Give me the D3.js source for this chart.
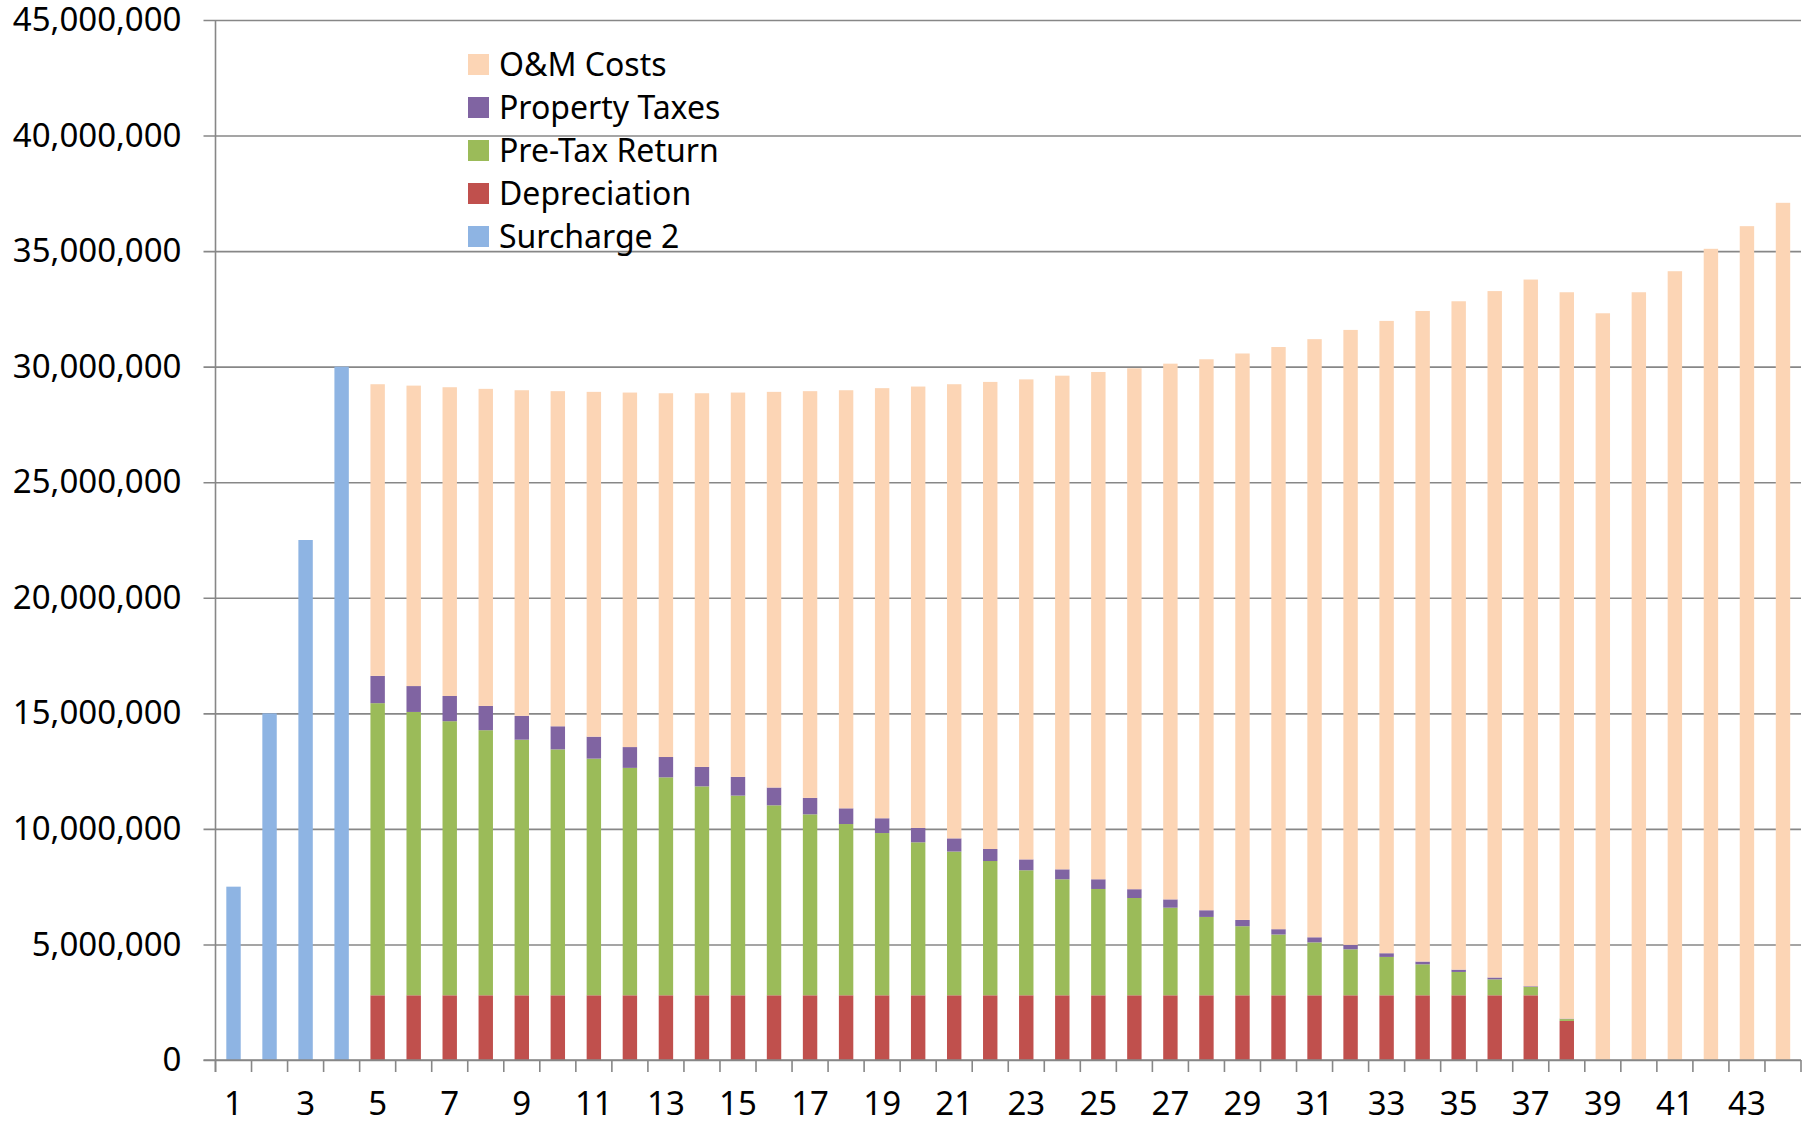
<!DOCTYPE html>
<html>
<head>
<meta charset="utf-8">
<script src="https://d3js.org/d3.v7.min.js"></script>
<style>
  body { margin: 0; background: #fff; }
  svg { display: block; font-family: "Noto Sans", sans-serif; }
</style>
</head>
<body>
<svg width="1816" height="1122"></svg>
<script>
// values in millions, one entry per year 1..44
var years = d3.range(1, 45);

var surcharge2 = [7.5, 15, 22.5, 30, 0, 0, 0, 0, 0, 0, 0, 0, 0, 0, 0, 0, 0, 0, 0, 0, 0, 0,
  0, 0, 0, 0, 0, 0, 0, 0, 0, 0, 0, 0, 0, 0, 0, 0, 0, 0, 0, 0, 0, 0];

var depreciation = [0, 0, 0, 0, 2.8, 2.8, 2.8, 2.8, 2.8, 2.8, 2.8, 2.8, 2.8, 2.8, 2.8, 2.8, 2.8,
  2.8, 2.8, 2.8, 2.8, 2.8, 2.8, 2.8, 2.8, 2.8, 2.8, 2.8, 2.8, 2.8, 2.8, 2.8, 2.8, 2.8, 2.8, 2.8,
  2.8, 1.69, 0, 0, 0, 0, 0, 0];

var preTaxReturn = [0, 0, 0, 0, 12.64, 12.26, 11.86, 11.47, 11.06, 10.64, 10.24, 9.84, 9.43, 9.04,
  8.64, 8.22, 7.83, 7.41, 7.02, 6.62, 6.22, 5.81, 5.41, 5.02, 4.60, 4.21, 3.79, 3.39, 2.99, 2.63,
  2.29, 1.99, 1.66, 1.34, 1.01, 0.69, 0.36, 0.08, 0, 0, 0, 0, 0, 0];

var propertyTaxes = [0, 0, 0, 0, 1.18, 1.12, 1.09, 1.05, 1.03, 1.00, 0.95, 0.90, 0.88, 0.84, 0.81,
  0.77, 0.71, 0.68, 0.64, 0.62, 0.57, 0.52, 0.47, 0.43, 0.42, 0.38, 0.36, 0.29, 0.27, 0.23, 0.22,
  0.19, 0.16, 0.12, 0.10, 0.08, 0.03, 0.02, 0, 0, 0, 0, 0, 0];

var omCosts = [0, 0, 0, 0, 12.62, 13.00, 13.36, 13.72, 14.09, 14.50, 14.92, 15.34, 15.74, 16.17,
  16.63, 17.12, 17.60, 18.09, 18.61, 19.10, 19.65, 20.21, 20.77, 21.36, 21.95, 22.54, 23.18, 23.84,
  24.51, 25.19, 25.88, 26.61, 27.36, 28.15, 28.92, 29.70, 30.58, 31.43, 32.31, 33.22, 34.13, 35.10,
  36.08, 37.09];

var yTicks = [0, 5, 10, 15, 20, 25, 30, 35, 40, 45];

// stacking order, bottom first
var keys = ["Surcharge 2", "Depreciation", "Pre-Tax Return", "Property Taxes", "O&M Costs"];
var colors = {
  "Surcharge 2": "#8eb4e3",
  "Depreciation": "#c0504d",
  "Pre-Tax Return": "#9bbb59",
  "Property Taxes": "#8064a2",
  "O&M Costs": "#fcd5b5"
};
var seriesData = {
  "Surcharge 2": surcharge2,
  "Depreciation": depreciation,
  "Pre-Tax Return": preTaxReturn,
  "Property Taxes": propertyTaxes,
  "O&M Costs": omCosts
};

var rows = years.map(function(yr, i) {
  var r = { year: yr };
  keys.forEach(function(k) { r[k] = seriesData[k][i]; });
  return r;
});

var svg = d3.select("svg");
var plotLeft = 215.5, plotRight = 1801, plotTop = 20, plotBottom = 1060;
var gridColor = "#878787";

var x = d3.scaleBand()
  .domain(years)
  .range([plotLeft, plotRight])
  .paddingInner(0.6)
  .paddingOuter(0.3);

var y = d3.scaleLinear()
  .domain([0, 45])
  .range([plotBottom, plotTop]);

// gridlines + y labels
var yAxis = svg.append("g")
  .attr("transform", "translate(" + plotLeft + ",0)")
  .call(d3.axisLeft(y)
    .tickValues(yTicks)
    .tickSize(12)
    .tickPadding(22)
    .tickFormat(function(d) { return d3.format(",")(d * 1e6); }));

yAxis.select(".domain").remove();
yAxis.selectAll(".tick line")
  .attr("x1", plotRight - plotLeft)
  .attr("stroke", gridColor)
  .attr("stroke-width", 1.6);
yAxis.selectAll(".tick text")
  .attr("fill", "#000")
  .attr("font-size", 33)
  .attr("font-family", "Noto Sans");

// bars
var stacked = d3.stack().keys(keys)(rows);

svg.append("g")
  .selectAll("g")
  .data(stacked)
  .join("g")
  .attr("fill", function(d) { return colors[d.key]; })
  .selectAll("rect")
  .data(function(d) { return d.filter(function(p) { return p[1] - p[0] > 0; }); })
  .join("rect")
  .attr("x", function(d) { return x(d.data.year); })
  .attr("width", x.bandwidth())
  .attr("y", function(d) { return y(d[1]); })
  .attr("height", function(d) { return y(d[0]) - y(d[1]); });

// y axis line
svg.append("line")
  .attr("x1", plotLeft).attr("x2", plotLeft)
  .attr("y1", plotTop).attr("y2", plotBottom + 12)
  .attr("stroke", gridColor)
  .attr("stroke-width", 1.6);

// x axis line and ticks between categories
svg.append("line")
  .attr("x1", plotLeft - 12).attr("x2", plotRight)
  .attr("y1", plotBottom).attr("y2", plotBottom)
  .attr("stroke", gridColor)
  .attr("stroke-width", 1.6);

svg.append("g")
  .selectAll("line")
  .data(d3.range(years.length + 1))
  .join("line")
  .attr("x1", function(i) { return plotLeft + i * x.step(); })
  .attr("x2", function(i) { return plotLeft + i * x.step(); })
  .attr("y1", plotBottom)
  .attr("y2", plotBottom + 12)
  .attr("stroke", gridColor)
  .attr("stroke-width", 1.6);

var xAxis = svg.append("g")
  .attr("transform", "translate(0," + plotBottom + ")")
  .call(d3.axisBottom(x)
    .tickValues(years.filter(function(d) { return d % 2 == 1; }))
    .tickSize(0)
    .tickPadding(32));

xAxis.select(".domain").remove();
xAxis.selectAll(".tick text")
  .attr("fill", "#000")
  .attr("font-size", 33)
  .attr("font-family", "Noto Sans");

// legend, top series first
var legend = svg.append("g")
  .selectAll("g")
  .data(keys.slice().reverse())
  .join("g")
  .attr("transform", function(d, i) { return "translate(468," + (64.5 + i * 43) + ")"; });

legend.append("rect")
  .attr("x", 0)
  .attr("y", -10.5)
  .attr("width", 21)
  .attr("height", 21)
  .attr("fill", function(d) { return colors[d]; });

legend.append("text")
  .attr("x", 31)
  .attr("y", 11)
  .attr("font-size", 32)
  .attr("fill", "#000")
  .text(function(d) { return d; });
</script>
</body>
</html>
